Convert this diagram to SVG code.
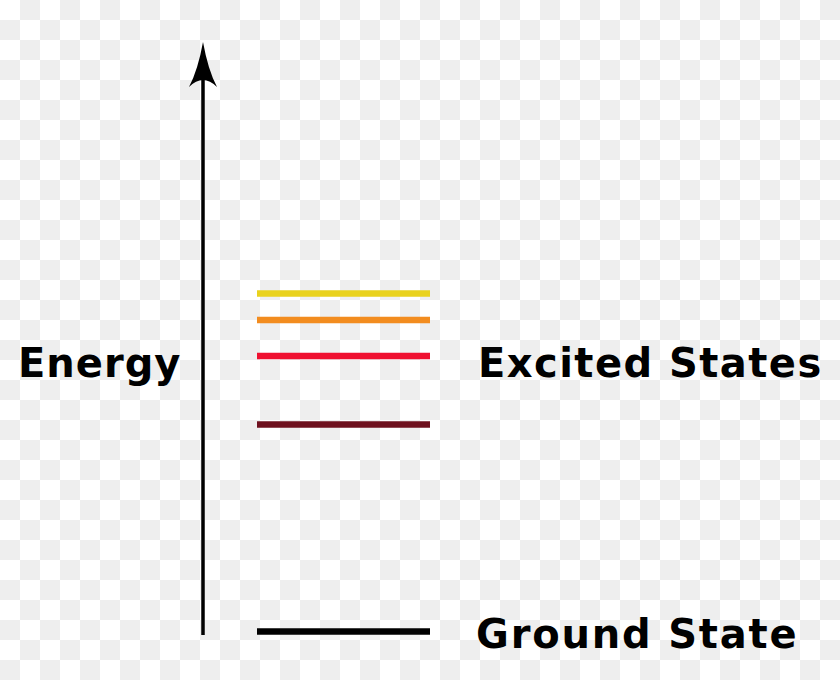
<svg xmlns="http://www.w3.org/2000/svg" width="840" height="680" viewBox="0 0 840 680">
<defs>
<pattern id="checker" width="40" height="40" patternUnits="userSpaceOnUse">
<rect width="40" height="40" fill="#ffffff"/>
<rect x="20" y="0" width="20" height="20" fill="#eeeeee"/>
<rect x="0" y="20" width="20" height="20" fill="#eeeeee"/>
</pattern>
</defs>
<style>
.lbl{font-family:"DejaVu Sans","Bitstream Vera Sans",sans-serif;font-weight:bold;font-size:40px;letter-spacing:1px;fill:#000}
.level{stroke-width:6.5;fill:none}
</style>
<rect width="840" height="680" fill="url(#checker)"/>
<g id="connectors">
<line x1="203" y1="635" x2="203" y2="76" stroke="#000" stroke-width="3.5"/>
<path d="M203,42 Q208,70 217,87 Q210,80 203,80 Q196,80 189,87 Q198,70 203,42 Z" fill="#000"/>
</g>
<g id="ground">
<line class="level" x1="257" y1="631.5" x2="430" y2="631.5" stroke="#000"/>
</g>
<g id="level1">
<line class="level" x1="257" y1="424.5" x2="430" y2="424.5" stroke="#6e101e"/>
</g>
<g id="level2">
<line class="level" x1="257" y1="356" x2="430" y2="356" stroke="#ef1030"/>
</g>
<g id="level3">
<line class="level" x1="257" y1="320" x2="430" y2="320" stroke="#f28c1f"/>
</g>
<g id="level4">
<line class="level" x1="257" y1="293.5" x2="430" y2="293.5" stroke="#e9d21d"/>
</g>
<g id="energy-label"><text class="lbl" x="18" y="377">Energy</text></g>
<g id="excited-label"><text class="lbl" x="478" y="377" style="letter-spacing:1.45px">Excited States</text></g>
<g id="ground-label"><text class="lbl" x="476" y="648" style="letter-spacing:1.8px">Ground State</text></g>
</svg>
